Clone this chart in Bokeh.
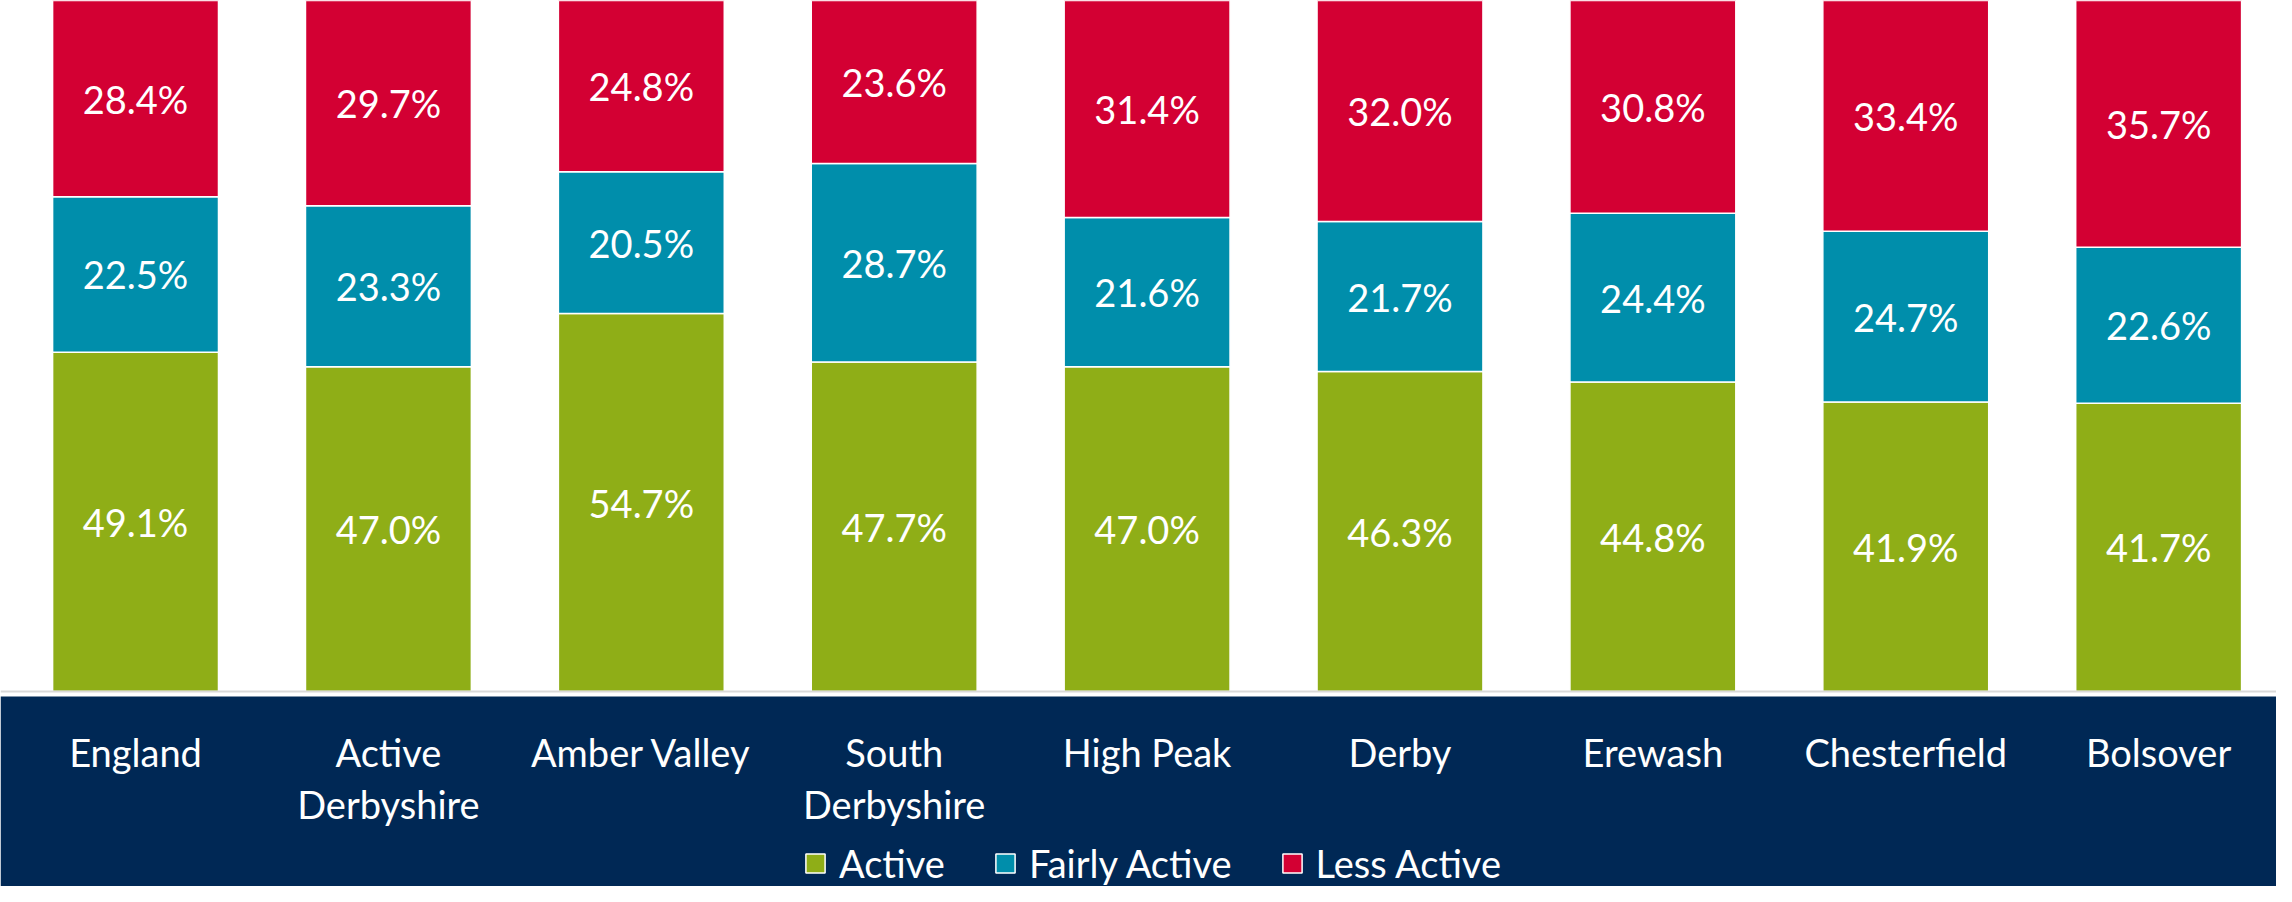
import numpy as np
from bokeh.plotting import figure
from bokeh.models import ColumnDataSource, Range1d, LabelSet, Span, Legend, BoxAnnotation
from bokeh.core.properties import value
from bokeh.embed import file_html
from bokeh.resources import INLINE

# ---- data ----
areas = ["England", "Active\nDerbyshire", "Amber Valley", "South\nDerbyshire",
         "High Peak", "Derby", "Erewash", "Chesterfield", "Bolsover"]
active = [49.1, 47.0, 54.7, 47.7, 47.0, 46.3, 44.8, 41.9, 41.7]
fairly_active = [22.5, 23.3, 20.5, 28.7, 21.6, 21.7, 24.4, 24.7, 22.6]
less_active = [28.4, 29.7, 24.8, 23.6, 31.4, 32.0, 30.8, 33.4, 35.7]
series = ["Active", "Fairly Active", "Less Active"]
colors = ["#8FAE17", "#008EAB", "#D30033"]
NAVY = "#002855"

idx = list(range(len(areas)))
data = {"x": idx, "Active": active, "Fairly Active": fairly_active, "Less Active": less_active}
src = ColumnDataSource(data)

# value label positions (segment midpoints)
lx, ly, lt = [], [], []
bottom = np.zeros(len(areas))
for name in series:
    vals = np.array(data[name])
    mids = bottom + vals / 2
    lx += idx
    ly += mids.tolist()
    lt += [f"{v:.1f}%" for v in vals]
    bottom = bottom + vals
lsrc = ColumnDataSource(dict(x=lx, y=ly, t=lt))

# category labels, one row per text line so every line is centred
cx, cy, ct, coff = [], [], [], []
for i, a in zip(idx, areas):
    for k, line in enumerate(a.split("\n")):
        cx.append(i)
        cy.append(0)
        ct.append(line)
        coff.append(-38 - 52 * k)
csrc = ColumnDataSource(dict(x=cx, y=cy, t=ct, off=coff))

p = figure(width=2276, height=886,
           x_range=Range1d(-0.534, 8.466), y_range=Range1d(-28.22, 100),
           output_backend="svg", toolbar_location=None,
           x_axis_location=None, y_axis_location=None,
           min_border_left=0, min_border_right=0, min_border_top=0, min_border_bottom=0,
           border_fill_color="white", background_fill_color="white",
           outline_line_color=None)
p.xgrid.visible = False
p.ygrid.visible = False

# navy band under the baseline
p.add_layout(BoxAnnotation(top=-0.72, fill_color=NAVY, fill_alpha=1, line_color=None))

rs = p.vbar_stack(series, x="x", width=0.656, source=src, color=colors,
                  line_color="white", line_width=1.5)

p.add_layout(Span(location=0, dimension="width", line_color="#D9D9D9", line_width=2))

labels = LabelSet(x="x", y="y", text="t", source=lsrc, text_align="center",
                  text_baseline="middle", text_color="white", text_font=value("Lato"),
                  text_font_size="38px")
p.add_layout(labels)

cat_labels = LabelSet(x="x", y="y", text="t", source=csrc, text_align="center",
                      text_baseline="top", y_offset="off", text_color="white",
                      text_font=value("Lato"), text_font_size="38px")
p.add_layout(cat_labels)

legend = Legend(items=[(n, [r]) for n, r in zip(series, rs)], orientation="horizontal",
                location=(803, 0), background_fill_alpha=0,
                border_line_color=None, label_text_color="white", label_text_font="Lato",
                label_text_font_size="38px", glyph_width=24, glyph_height=24,
                label_standoff=12, spacing=48, padding=0, margin=0)
p.add_layout(legend)

open("out.html", "w").write(file_html(p, INLINE))
